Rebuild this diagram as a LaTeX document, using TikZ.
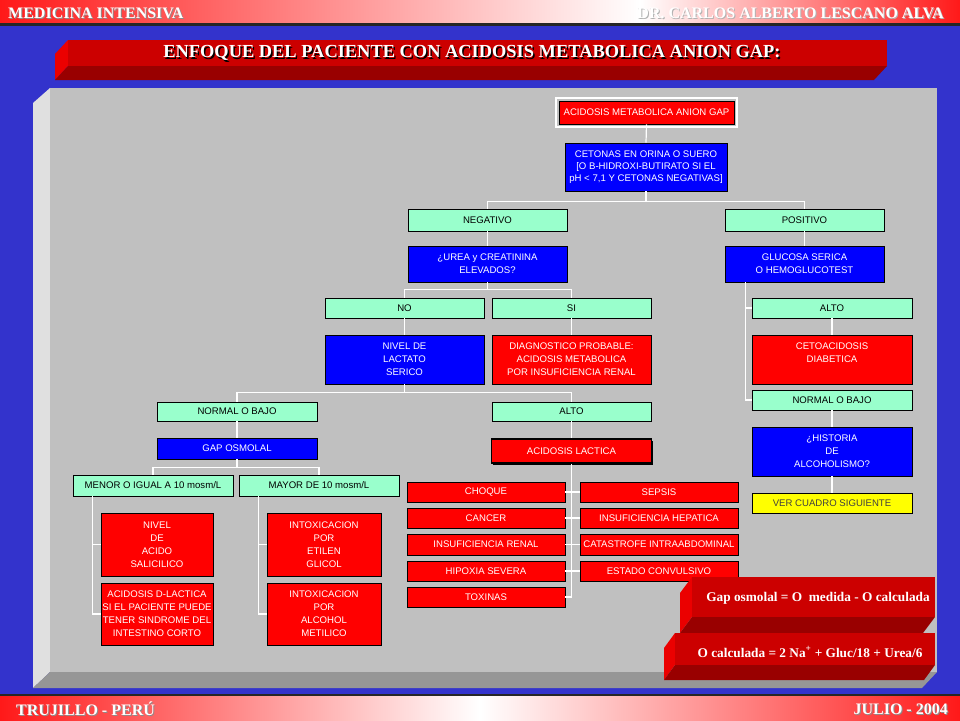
\documentclass[tikz,border=0pt]{standalone}
\usepackage{fontspec}
\setmainfont{Liberation Serif}
\newfontfamily\sansbox{Liberation Sans}
\usetikzlibrary{calc,shadows}
\definecolor{bgblue}{RGB}{51,51,204}
\definecolor{hred}{RGB}{255,25,25}
\definecolor{panel}{RGB}{192,192,192}
\definecolor{panelL}{RGB}{224,224,224}
\definecolor{panelD}{RGB}{150,150,150}
\definecolor{tfront}{RGB}{204,0,0}
\definecolor{tleft}{RGB}{235,0,0}
\definecolor{tbottom}{RGB}{153,0,0}
\definecolor{aqua}{RGB}{153,255,204}
\definecolor{bblue}{RGB}{0,0,255}
\definecolor{bred}{RGB}{255,0,0}
\definecolor{byel}{RGB}{255,255,0}
\begin{document}
\begin{tikzpicture}[x=1pt,y=-1pt,
  box/.style={draw=black, line width=0.6pt, inner sep=0.5pt, align=center, font=\sansbox\fontsize{9.6}{13}\selectfont},
  aq/.style={box, fill=aqua, text=black},
  bl/.style={box, fill=bblue, text=white},
  rd/.style={box, fill=bred, text=white},
  yl/.style={box, fill=byel, text=black!75},
  sz/.style 2 args={minimum width=#1pt, minimum height=#2pt},
  wire/.style={draw=white, line width=1.2pt},
  hdr/.style={inner sep=0pt, font=\bfseries\fontsize{16}{16}\selectfont},
  fml/.style={inner sep=0pt, text=white, font=\bfseries\fontsize{13.3}{15}\selectfont},
  ttl/.style={inner sep=0pt, font=\bfseries\fontsize{18.4}{18.4}\selectfont}]
\useasboundingbox (0,0) rectangle (960,720);
\fill[bgblue] (0,0) rectangle (960,720);
% header
\shade[left color=hred, right color=white] (0,0) rectangle (640,23);
\shade[left color=white, right color=hred] (640,0) rectangle (960,23);
\fill[black!85] (0,23) rectangle (960,25.5);
\node[hdr, anchor=west, text=black!45] (h1s) at (9,14) {MEDICINA INTENSIVA};
\node[hdr, anchor=west, text=white] (h1) at (8,13) {MEDICINA INTENSIVA};
\node[hdr, anchor=east, text=black!30] (h2s) at (945,14) {DR. CARLOS ALBERTO LESCANO ALVA};
\node[hdr, anchor=east, text=white] (h2) at (944,13) {DR. CARLOS ALBERTO LESCANO ALVA};
% footer
\fill[black!85] (0,694) rectangle (960,696.5);
\shade[left color=hred, right color=white] (0,696.5) rectangle (480,720);
\shade[left color=white, right color=hred] (480,696.5) rectangle (960,720);
\node[hdr, anchor=west, text=black!45] (f1s) at (17,710) {TRUJILLO - PERÚ};
\node[hdr, anchor=west, text=white] (f1) at (16,709) {TRUJILLO - PERÚ};
\node[hdr, anchor=east, text=black!45] (f2s) at (949,710) {JULIO - 2004};
\node[hdr, anchor=east, text=white] (f2) at (948,709) {JULIO - 2004};
% title bar
\fill[tleft] (68,40) -- (68,66) -- (55,80) -- (55,54) -- cycle;
\fill[tbottom] (68,66) -- (887,66) -- (874,80) -- (55,80) -- cycle;
\fill[tfront] (68,40) rectangle (887,66);
\node[ttl, text=black] (ttls) at (473.5,54.5) {ENFOQUE DEL PACIENTE CON ACIDOSIS METABOLICA ANION GAP:};
\node[ttl, text=white] (ttl) at (472,53) {ENFOQUE DEL PACIENTE CON ACIDOSIS METABOLICA ANION GAP:};
% panel
\fill[panelL] (33,103) -- (50,88) -- (50,672) -- (33,688) -- cycle;
\fill[panelD] (33,688) -- (50,672) -- (937,672) -- (922,688) -- cycle;
\fill[panel] (50,88) rectangle (937,672);
% nodes
\node[rd, sz={175}{23}] (top) at (646.5,112.5) {ACIDOSIS METABOLICA ANION GAP};
\draw[white, line width=2pt] ($(top.north west)+(-2.5,-2.5)$) rectangle ($(top.south east)+(2.5,2.5)$);
\node[bl, sz={162}{48}, font=\sansbox\fontsize{9.6}{12}\selectfont] (ket) at (646,167) {CETONAS EN ORINA O SUERO\\{[}O B-HIDROXI-BUTIRATO SI EL\\pH < 7,1 Y CETONAS NEGATIVAS{]}};
\node[aq, sz={159}{22}] (neg) at (487.5,220) {NEGATIVO};
\node[aq, sz={159}{22}] (pos) at (804.5,220) {POSITIVO};
\node[bl, sz={159}{36}] (urea) at (487.5,264) {¿UREA y CREATININA\\ELEVADOS?};
\node[bl, sz={159}{36}] (glu) at (804.5,264) {GLUCOSA SERICA\\O HEMOGLUCOTEST};
\node[aq, sz={159}{20}] (no) at (404.5,308) {NO};
\node[aq, sz={159}{20}] (si) at (571.5,308) {SI};
\node[bl, sz={159}{49}] (lact) at (404.5,359.5) {NIVEL DE\\LACTATO\\SERICO};
\node[rd, sz={159}{49}] (diag) at (571.5,359.5) {DIAGNOSTICO PROBABLE:\\ACIDOSIS METABOLICA\\POR INSUFICIENCIA RENAL};
\node[aq, sz={160}{19}] (nob1) at (237,411.5) {NORMAL O BAJO};
\node[aq, sz={159}{19}] (alto1) at (571.5,411.5) {ALTO};
\node[bl, sz={160}{21}] (gap) at (237,448.5) {GAP OSMOLAL};
\node[rd, sz={160}{24}, draw=black, line width=1.8pt, drop shadow={shadow xshift=1.5pt, shadow yshift=-1.5pt, fill=black, opacity=1}] (acl) at (571.5,451) {ACIDOSIS LACTICA};
\node[aq, sz={160}{21}] (menor) at (153,485.5) {MENOR O IGUAL A 10 mosm/L};
\node[aq, sz={160}{21}] (mayor) at (319,485.5) {MAYOR DE 10 mosm/L};
\node[rd, sz={112}{63}] (sal) at (157,544.5) {NIVEL\\DE\\ACIDO\\SALICILICO};
\node[rd, sz={112}{62}] (dlac) at (157,614) {ACIDOSIS D-LACTICA\\SI EL PACIENTE PUEDE\\TENER SINDROME DEL\\INTESTINO CORTO};
\node[rd, sz={114}{63}] (etil) at (324,544.5) {INTOXICACION\\POR\\ETILEN\\GLICOL};
\node[rd, sz={114}{62}] (metil) at (324,614) {INTOXICACION\\POR\\ALCOHOL\\METILICO};
\node[rd, sz={158}{20}] (cho) at (486,492) {CHOQUE};
\node[rd, sz={158}{20}] (sep) at (659,492) {SEPSIS};
\node[rd, sz={158}{20}] (can) at (486,518) {CANCER};
\node[rd, sz={158}{20}] (hep) at (659,518) {INSUFICIENCIA HEPATICA};
\node[rd, sz={158}{21}] (ren) at (486,544.5) {INSUFICIENCIA RENAL};
\node[rd, sz={158}{21}] (cat) at (659,544.5) {CATASTROFE INTRAABDOMINAL};
\node[rd, sz={158}{20}] (hip) at (486,571) {HIPOXIA SEVERA};
\node[rd, sz={158}{20}] (conv) at (659,571) {ESTADO CONVULSIVO};
\node[rd, sz={158}{20}] (tox) at (486,597) {TOXINAS};
\node[aq, sz={160}{20}] (alto2) at (832,308) {ALTO};
\node[rd, sz={160}{49}] (ceto) at (832,359.5) {CETOACIDOSIS\\DIABETICA\\\mbox{}};
\node[aq, sz={160}{20}] (nob2) at (832,400) {NORMAL O BAJO};
\node[bl, sz={160}{49}] (hist) at (832,451.5) {¿HISTORIA\\DE\\ALCOHOLISMO?};
\node[yl, sz={160}{20}] (ver) at (832,503) {VER CUADRO SIGUIENTE};
% connectors
\coordinate (j1) at ($(ket.south)+(0,10)$);
\draw[wire] (top.south) -- (ket.north);
\draw[wire] (ket.south) -- (j1);
\draw[wire] (neg.north) |- (j1) -| (pos.north);
\draw[wire] (neg.south) -- (urea.north);
\draw[wire] (pos.south) -- (glu.north);
\coordinate (j2) at ($(urea.south)+(0,7)$);
\draw[wire] (urea.south) -- (j2);
\draw[wire] (no.north) |- (j2) -| (si.north);
\draw[wire] (no.south) -- (lact.north);
\draw[wire] (si.south) -- (diag.north);
\coordinate (j3) at ($(lact.south)+(0,8)$);
\draw[wire] (lact.south) -- (j3);
\draw[wire] (nob1.north) |- (j3) -| (alto1.north);
\draw[wire] (nob1.south) -- (gap.north);
\draw[wire] (alto1.south) -- (acl.north);
\coordinate (j4) at ($(gap.south)+(0,8)$);
\draw[wire] (gap.south) -- (j4);
\draw[wire] (menor.north) |- (j4) -| (mayor.north);
\coordinate (s1) at ($(menor.south west)+(20,0)$);
\draw[wire] (s1) |- (sal.west);
\draw[wire] (s1) |- (dlac.west);
\coordinate (s2) at ($(mayor.south west)+(20,0)$);
\draw[wire] (s2) |- (etil.west);
\draw[wire] (s2) |- (metil.west);
\draw[wire] (acl.south) -- (acl.south |- tox.east);
\draw[wire] (cho.east) -- (sep.west);
\draw[wire] (can.east) -- (hep.west);
\draw[wire] (ren.east) -- (cat.west);
\draw[wire] (hip.east) -- (conv.west);
\draw[wire] (tox.east) -- (acl.south |- tox.east);
\coordinate (s3) at ($(glu.south west)+(21,0)$);
\draw[wire] (s3) |- (alto2.west);
\draw[wire] (s3) |- (nob2.west);
\draw[wire] (alto2.south) -- (ceto.north);
\draw[wire] (nob2.south) -- (hist.north);
\draw[wire] (hist.south) -- (ver.north);
% formula boxes
\fill[tleft] (692,577) -- (692,617) -- (680,633) -- (680,593) -- cycle;
\fill[tbottom] (692,617) -- (935,617) -- (923,633) -- (680,633) -- cycle;
\fill[tfront] (692,577) rectangle (935,617);
\node[fml] (fa) at (818,598) {Gap osmolal = O\ \ medida - O calculada};
\fill[tleft] (675,633) -- (675,665) -- (664,680) -- (664,648) -- cycle;
\fill[tbottom] (675,665) -- (935,665) -- (924,680) -- (664,680) -- cycle;
\fill[tfront] (675,633) rectangle (935,665);
\node[fml] (fb) at (810,652) {O calculada = 2 Na\textsuperscript{+} + Gluc/18 + Urea/6};
\end{tikzpicture}
\end{document}
